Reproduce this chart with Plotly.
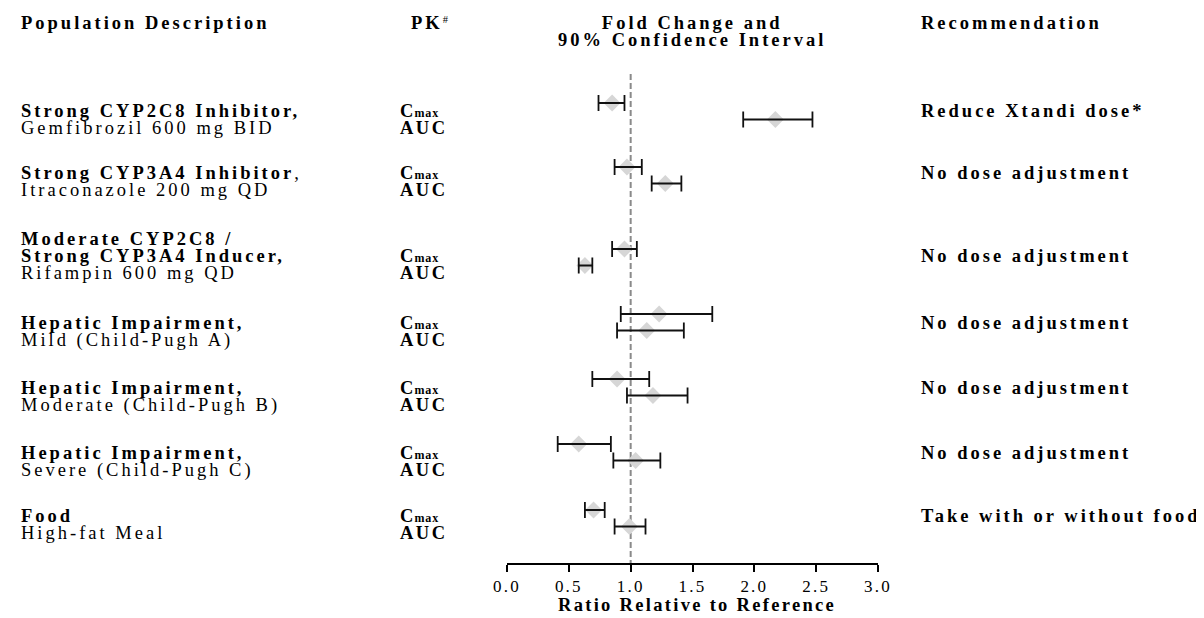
import plotly.graph_objects as go

# ---------------- data ----------------
population_bold = [
    ["Strong CYP2C8 Inhibitor,"],
    ["Strong CYP3A4 Inhibitor"],
    ["Moderate CYP2C8 /", "Strong CYP3A4 Inducer,"],
    ["Hepatic Impairment,"],
    ["Hepatic Impairment,"],
    ["Hepatic Impairment,"],
    ["Food"],
]
population_bold_suffix = ["", ",", "", "", "", "", ""]
population_plain = [
    "Gemfibrozil 600 mg BID",
    "Itraconazole 200 mg QD",
    "Rifampin 600 mg QD",
    "Mild (Child-Pugh A)",
    "Moderate (Child-Pugh B)",
    "Severe (Child-Pugh C)",
    "High-fat Meal",
]
recommendations = [
    "Reduce Xtandi dose*",
    "No dose adjustment",
    "No dose adjustment",
    "No dose adjustment",
    "No dose adjustment",
    "No dose adjustment",
    "Take with or without food",
]
pk_names = ["C", "AUC"]
pk_sub = ["max", ""]

cmax_est = [0.85, 0.97, 0.95, 1.23, 0.89, 0.58, 0.70]
cmax_lo = [0.74, 0.87, 0.85, 0.92, 0.69, 0.41, 0.63]
cmax_hi = [0.95, 1.09, 1.05, 1.66, 1.15, 0.84, 0.79]
auc_est = [2.17, 1.28, 0.63, 1.13, 1.18, 1.04, 0.99]
auc_lo = [1.91, 1.17, 0.58, 0.89, 0.97, 0.86, 0.87]
auc_hi = [2.47, 1.41, 0.69, 1.43, 1.46, 1.24, 1.12]

reference_ratio = 1.0
x_ticks = [0.0, 0.5, 1.0, 1.5, 2.0, 2.5, 3.0]
x_tick_labels = ["0.0", "0.5", "1.0", "1.5", "2.0", "2.5", "3.0"]

# ---------------- layout (screen pixel positions) ----------------
BODY = 8                      # default page margin around the plot div
W, H = 1204 - BODY, 618 - BODY
PL, PR, AXY = 507, 878, 563   # plot left/right and axis line (screen px)
row_y = [103, 167, 249, 314, 379, 444, 510]     # Cmax marker rows
AUC_DY = 16.5
text_y = [111, 173, 256, 323, 388, 453, 516]    # Cmax text line centres
LINE = 17
FONT = "Liberation Serif"
FS = 18.5
LS = 3.0
PAD = 2
BASE = LINE / 1.3             # annotation base size -> <br> spacing of LINE px


def px(x):
    return (x - PL) / (PR - PL)


def py(y):
    return (AXY - y) / (AXY - BODY)


def span(t, bold=False, ls=LS, size=FS, italic=False):
    st = f"letter-spacing:{ls}px;font-size:{size}px"
    if bold:
        st += ";font-weight:bold"
    if italic:
        st += ";font-style:italic"
    return f'<span style="{st}">{t}</span>'


ys, xs, lo_m, hi_p = [], [], [], []
for i in range(len(cmax_est)):
    for est, lo, hi, dy in ((cmax_est[i], cmax_lo[i], cmax_hi[i], 0),
                            (auc_est[i], auc_lo[i], auc_hi[i], AUC_DY)):
        xs.append(est)
        ys.append(row_y[i] + dy)
        lo_m.append(est - lo)
        hi_p.append(hi - est)

fig = go.Figure()
fig.add_trace(go.Scatter(
    x=xs, y=ys, mode="markers",
    marker=dict(symbol="diamond", size=13, color="#d6d6d6", line=dict(width=0)),
    hoverinfo="skip", showlegend=False))
fig.add_trace(go.Scatter(
    x=xs, y=ys, mode="markers",
    marker=dict(size=1, color="rgba(0,0,0,0)"),
    error_x=dict(type="data", symmetric=False, array=hi_p, arrayminus=lo_m,
                 color="#111111", thickness=1.8, width=8),
    hoverinfo="skip", showlegend=False))

# reference dashed line
fig.add_shape(type="line", xref="x", yref="y", x0=reference_ratio, x1=reference_ratio,
              y0=74, y1=AXY, line=dict(color="#8a8a8a", width=2, dash="6px,3px"),
              layer="below")

ann = []


def add(text, x, y, xanchor="left", base=BASE):
    ann.append(dict(text=text, xref="paper", yref="paper",
                    x=px(x - PAD if xanchor == "left" else x), y=py(y),
                    xanchor=xanchor, yanchor="middle", showarrow=False,
                    align=xanchor if xanchor != "center" else "center",
                    font=dict(family=FONT, size=base, color="black")))


# headers
add(span("Population Description", bold=True), 21, 23)
add(span("PK", bold=True) + "<sup>#</sup>", 411, 23, base=15)
add(span("Fold Change and", bold=True) + "<br>" + span("90% Confidence Interval", bold=True),
    692, 31.5, "center")
add(span("Recommendation", bold=True), 921, 23)

for i in range(len(cmax_est)):
    ty = text_y[i]
    bl = population_bold[i]
    lines = []
    for k, line in enumerate(bl):
        t = span(line, bold=True)
        if k == len(bl) - 1 and population_bold_suffix[i]:
            t += span(population_bold_suffix[i])
        lines.append(t)
    lines.append(span(population_plain[i]))
    n = len(lines)
    first_y = ty - LINE * (len(bl) - 1)
    add("<br>".join(lines), 21, first_y + LINE * (n - 1) / 2)
    pk = (span(pk_names[0], bold=True, ls=1) + span(pk_sub[0], bold=True, ls=1, size=12)
          + "<br>" + span(pk_names[1], bold=True, ls=2.5))
    add(pk, 400, ty + LINE / 2)
    add(span(recommendations[i], bold=True), 921, ty)

# axis title
add(span("Ratio Relative to Reference", bold=True, ls=2.3), 697, 605, "center")

fig.update_layout(
    width=W, height=H,
    margin=dict(l=PL - BODY, r=W - (PR - BODY), t=0, b=H - (AXY - BODY), pad=0),
    paper_bgcolor="white", plot_bgcolor="white",
    annotations=ann,
    xaxis=dict(range=[0, 3], tickvals=x_ticks,
               ticktext=[span(t, ls=2.2, size=17) for t in x_tick_labels],
               showgrid=False, zeroline=False, showline=True, linecolor="black",
               linewidth=2, ticks="outside", ticklen=7, tickwidth=2, tickcolor="black",
               tickfont=dict(family=FONT, size=17, color="black"), fixedrange=True),
    yaxis=dict(range=[AXY, BODY], visible=False, fixedrange=True),
    font=dict(family=FONT),
)

fig.write_html("out.html")
